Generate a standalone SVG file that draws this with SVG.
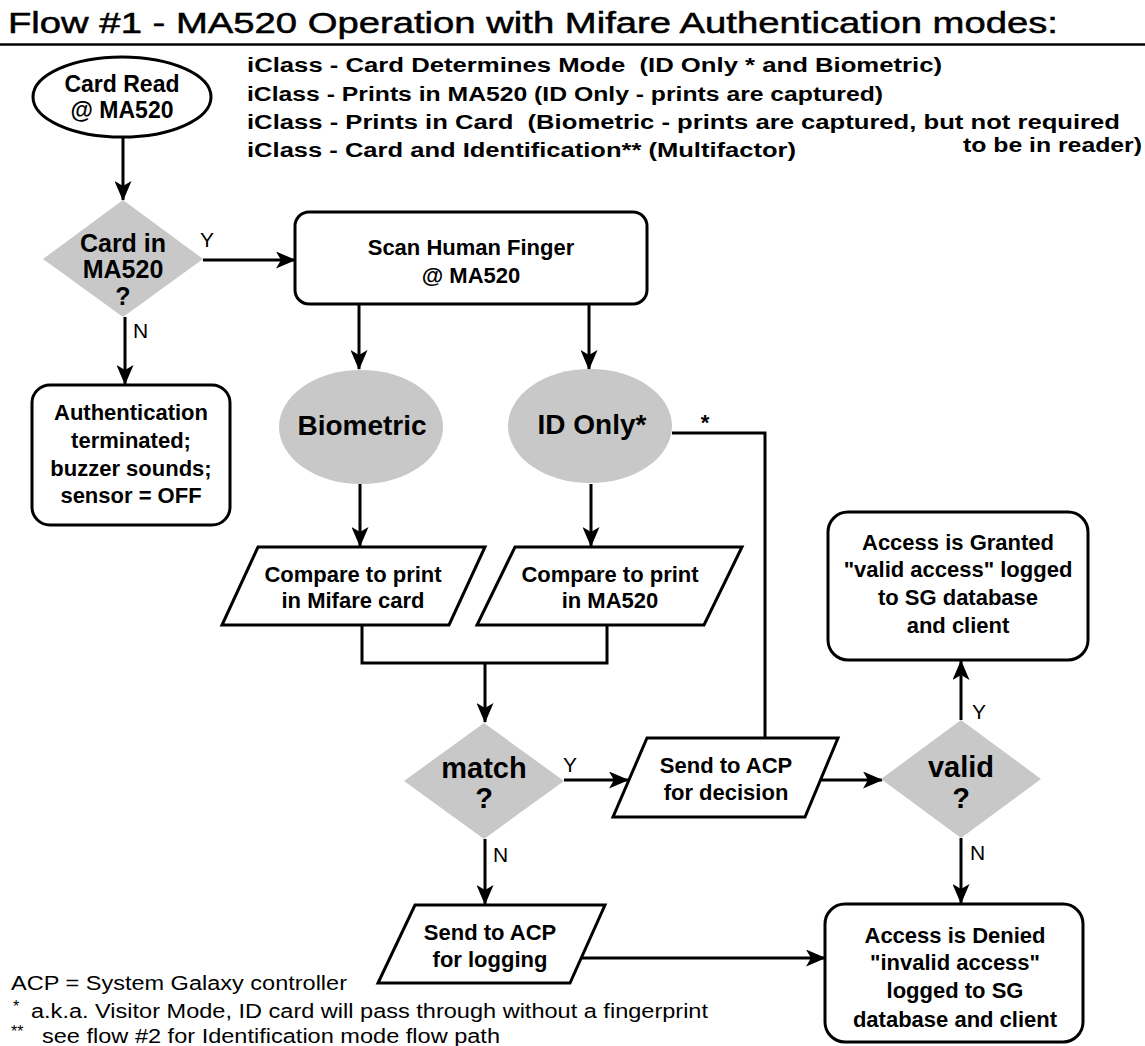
<svg xmlns="http://www.w3.org/2000/svg" width="1145" height="1046" viewBox="0 0 1145 1046">
<style>
.t{font-family:"Liberation Sans",Arial,Helvetica,sans-serif;font-weight:bold;text-anchor:middle;fill:#000}
.hdr{font-family:"Liberation Sans",Arial,Helvetica,sans-serif;font-weight:bold;fill:#000;font-size:20px;white-space:pre}
.lbl{font-family:"Liberation Sans",Arial,Helvetica,sans-serif;font-size:21px;fill:#000}
.note{font-family:"Liberation Sans",Arial,Helvetica,sans-serif;font-size:20px;fill:#000}
.box{fill:#fff;stroke:#000;stroke-width:3}
.gray{fill:#c8c8c8;stroke:none}
.conn path{fill:none;stroke:#000;stroke-width:3}
.arr{marker-end:url(#ah)}
</style>
<defs>
<marker id="ah" markerUnits="userSpaceOnUse" markerWidth="20" markerHeight="17" viewBox="0 0 20 17" refX="19" refY="8.5" orient="auto">
<path d="M0,0 L20,8.5 L0,17 L5,8.5 z" fill="#000"/>
</marker>
</defs>
<rect width="1145" height="1046" fill="#fff"/>

<g id="title">
<text x="8" y="33" font-family="'Liberation Sans Narrow','Liberation Sans',Arial,sans-serif" font-size="29" fill="#000" stroke="#000" stroke-width="0.5" textLength="1050" lengthAdjust="spacingAndGlyphs">Flow #1 - MA520 Operation with Mifare Authentication modes:</text>
<path d="M0 44.5 H1145" stroke="#000" stroke-width="2.5"/>
</g>

<g id="modes">
<text class="hdr" x="247" y="72" textLength="695" lengthAdjust="spacingAndGlyphs">iClass - Card Determines Mode  (ID Only * and Biometric)</text>
<text class="hdr" x="247" y="101" textLength="636" lengthAdjust="spacingAndGlyphs">iClass - Prints in MA520 (ID Only - prints are captured)</text>
<text class="hdr" x="247" y="129" textLength="873" lengthAdjust="spacingAndGlyphs">iClass - Prints in Card  (Biometric - prints are captured, but not required</text>
<text class="hdr" x="247" y="157" textLength="549" lengthAdjust="spacingAndGlyphs">iClass - Card and Identification** (Multifactor)</text>
<text class="hdr" x="963" y="152" textLength="179" lengthAdjust="spacingAndGlyphs">to be in reader)</text>
</g>

<g class="conn" id="connectors">
<path class="arr" d="M123 137 V200"/>
<path class="arr" d="M203 260 H295"/>
<path class="arr" d="M125 317 V384"/>
<path class="arr" d="M359 304 V369"/>
<path class="arr" d="M589 304 V369"/>
<path d="M672 433 H765 V738"/>
<path class="arr" d="M360 484 V546"/>
<path class="arr" d="M591 484 V546"/>
<path d="M362 625 V663 H607 V625"/>
<path class="arr" d="M485 663 V722"/>
<path class="arr" d="M564 780 H628"/>
<path class="arr" d="M820 780 H882"/>
<path class="arr" d="M961 720 V661"/>
<path class="arr" d="M961 838 V903"/>
<path class="arr" d="M485 839 V904"/>
<path class="arr" d="M581 958 H825"/>
<text class="lbl" x="200" y="247">Y</text>
<text class="lbl" x="133" y="338">N</text>
<text class="t" x="705" y="430" font-size="22">*</text>
<text class="lbl" x="563" y="772">Y</text>
<text class="lbl" x="493" y="862">N</text>
<text class="lbl" x="972" y="719">Y</text>
<text class="lbl" x="970" y="860">N</text>
</g>

<g id="card-read">
<ellipse class="box" cx="122" cy="97" rx="89" ry="40"/>
<text class="t" x="122" y="92" font-size="23">Card Read</text>
<text class="t" x="122" y="118" font-size="23">@ MA520</text>
</g>

<g id="card-in">
<polygon class="gray" points="123,200 203,259 123,317 43,259"/>
<text class="t" x="123" y="252" font-size="25">Card in</text>
<text class="t" x="123" y="278" font-size="25">MA520</text>
<text class="t" x="123" y="305" font-size="25">?</text>
</g>

<g id="scan">
<rect class="box" x="295" y="212" width="352" height="92" rx="14"/>
<text class="t" x="471" y="255" font-size="22">Scan Human Finger</text>
<text class="t" x="471" y="283" font-size="22">@ MA520</text>
</g>

<g id="auth-terminated">
<rect class="box" x="32" y="385" width="198" height="140" rx="18"/>
<text class="t" x="131" y="420" font-size="22">Authentication</text>
<text class="t" x="131" y="448" font-size="22">terminated;</text>
<text class="t" x="131" y="476" font-size="22">buzzer sounds;</text>
<text class="t" x="131" y="503" font-size="22">sensor = OFF</text>
</g>

<g id="biometric">
<ellipse class="gray" cx="361" cy="427" rx="82" ry="57"/>
<text class="t" x="362" y="435" font-size="28">Biometric</text>
</g>

<g id="id-only">
<ellipse class="gray" cx="590" cy="426" rx="82" ry="57"/>
<text class="t" x="592" y="434" font-size="28">ID Only*</text>
</g>

<g id="compare-card">
<polygon class="box" points="258,547 485,547 449,625 222,625"/>
<text class="t" x="353" y="582" font-size="22">Compare to print</text>
<text class="t" x="353" y="608" font-size="22">in Mifare card</text>
</g>

<g id="compare-ma520">
<polygon class="box" points="515,547 742,547 704,625 477,625"/>
<text class="t" x="610" y="582" font-size="22">Compare to print</text>
<text class="t" x="610" y="608" font-size="22">in MA520</text>
</g>

<g id="match">
<polygon class="gray" points="484,723 564,781 484,839 404,781"/>
<text class="t" x="484" y="778" font-size="29">match</text>
<text class="t" x="484" y="808" font-size="29">?</text>
</g>

<g id="send-decision">
<polygon class="box" points="647,738 838,738 805,817 613,817"/>
<text class="t" x="726" y="773" font-size="22">Send to ACP</text>
<text class="t" x="726" y="800" font-size="22">for decision</text>
</g>

<g id="valid">
<polygon class="gray" points="961,720 1041,779 961,838 881,779"/>
<text class="t" x="961" y="777" font-size="29">valid</text>
<text class="t" x="961" y="808" font-size="29">?</text>
</g>

<g id="granted">
<rect class="box" x="828" y="512" width="260" height="148" rx="20"/>
<text class="t" x="958" y="550" font-size="22">Access is Granted</text>
<text class="t" x="958" y="577" font-size="22">"valid access" logged</text>
<text class="t" x="958" y="605" font-size="22">to SG database</text>
<text class="t" x="958" y="633" font-size="22">and client</text>
</g>

<g id="send-logging">
<polygon class="box" points="415,905 605,905 570,983 378,983"/>
<text class="t" x="490" y="940" font-size="22">Send to ACP</text>
<text class="t" x="490" y="967" font-size="22">for logging</text>
</g>

<g id="denied">
<rect class="box" x="825" y="904" width="258" height="138" rx="20"/>
<text class="t" x="955" y="943" font-size="22">Access is Denied</text>
<text class="t" x="955" y="970" font-size="22">"invalid access"</text>
<text class="t" x="955" y="998" font-size="22">logged to SG</text>
<text class="t" x="955" y="1027" font-size="22">database and client</text>
</g>

<g id="notes">
<text class="note" x="11" y="990" textLength="336" lengthAdjust="spacingAndGlyphs">ACP = System Galaxy controller</text>
<text class="note"><tspan x="13" y="1012" font-size="16">*</tspan><tspan x="31" y="1018" textLength="677" lengthAdjust="spacingAndGlyphs">a.k.a. Visitor Mode, ID card will pass through without a fingerprint</tspan></text>
<text class="note"><tspan x="11" y="1037" font-size="16">**</tspan><tspan x="42" y="1043" textLength="458" lengthAdjust="spacingAndGlyphs">see flow #2 for Identification mode flow path</tspan></text>
</g>
</svg>
